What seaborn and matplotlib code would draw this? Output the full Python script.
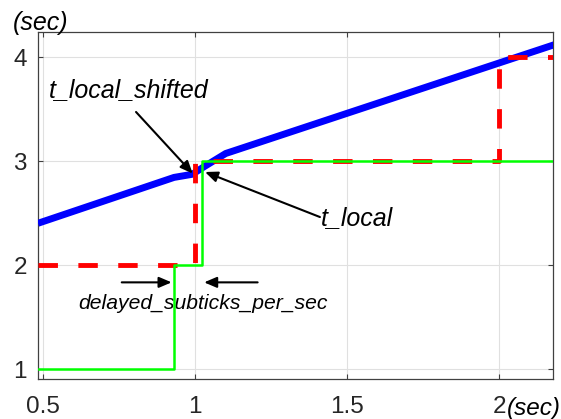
import matplotlib
matplotlib.use("Agg")
import matplotlib.pyplot as plt
import pandas as pd
import seaborn as sns

# Local clock (sec) against real time (sec)
local_t = [0.4825, 0.93, 0.99, 1.03, 1.10, 2.18]
local_val = [2.404, 2.845, 2.875, 2.95, 3.075, 4.12]

# Shifted local clock, whole-second steps
shifted_t = [0.4825, 1.0, 2.0, 2.18]
shifted_val = [2, 3, 4, 4]

# Delayed subtick counter
subtick_t = [0.4825, 0.93, 1.023, 2.18]
subtick_val = [1, 2, 3, 3]

x_ticks = [0.5, 1, 1.5, 2]
x_ticklabels = ["0.5", "1", "1.5", "2"]
y_ticks = [1, 2, 3, 4]
y_ticklabels = ["1", "2", "3", "4"]

sns.set_theme(style="whitegrid")
plt.rcParams["font.family"] = ["Liberation Sans", "DejaVu Sans"]

fig = plt.figure(figsize=(5.61, 4.19), dpi=100)
ax = fig.add_axes([38 / 561, 1 - 379.3 / 419, (552.7 - 38) / 561, (379.3 - 32) / 419])
ax.set_facecolor("white")

local_df = pd.DataFrame({"t": local_t, "v": local_val})
shifted_df = pd.DataFrame({"t": shifted_t, "v": shifted_val})
subtick_df = pd.DataFrame({"t": subtick_t, "v": subtick_val})

sns.lineplot(data=local_df, x="t", y="v", ax=ax, color="#0000ff", lw=5.0,
             estimator=None, sort=False, solid_capstyle="butt",
             solid_joinstyle="round", zorder=3)
sns.lineplot(data=shifted_df, x="t", y="v", ax=ax, color="#ff0000", lw=3.5,
             estimator=None, sort=False, drawstyle="steps-post",
             linestyle=(0, (4.0, 4.2)), zorder=4)
sns.lineplot(data=subtick_df, x="t", y="v", ax=ax, color="#00ff00", lw=1.8,
             estimator=None, sort=False, drawstyle="steps-post", zorder=5)

ax.set_xlim(0.4825, 2.1757)
ax.set_ylim(0.904, 4.243)
ax.set_xticks(x_ticks)
ax.set_xticklabels(x_ticklabels)
ax.set_yticks(y_ticks)
ax.set_yticklabels(y_ticklabels)
ax.set_xlabel("")
ax.set_ylabel("")

ax.grid(True, color="#e0e0e0", lw=0.8)
for side in ["left", "right", "top", "bottom"]:
    ax.spines[side].set_visible(True)
    ax.spines[side].set_color("#404040")
    ax.spines[side].set_linewidth(0.9)
ax.tick_params(axis="both", which="both", direction="in", length=3.6, width=0.8,
               color="#404040", labelcolor="#262626", labelsize=17.5,
               top=True, right=True, bottom=True, left=True)
ax.tick_params(axis="x", pad=12)
ax.tick_params(axis="y", pad=8)

arrow = dict(arrowstyle="-|>,head_length=0.75,head_width=0.32", color="black",
             lw=1.5, mutation_scale=10, shrinkA=0, shrinkB=0)

ax.text(0.518, 3.618, "t_local_shifted", fontsize=18, style="italic",
        color="black", ha="left", va="baseline")
ax.annotate("", xy=(0.9915, 2.882), xytext=(0.805, 3.474), arrowprops=arrow)

ax.text(1.4125, 2.385, "t_local", fontsize=18, style="italic",
        color="black", ha="left", va="baseline")
ax.annotate("", xy=(1.032, 2.897), xytext=(1.410, 2.464), arrowprops=arrow)

ax.text(0.614, 1.577, "delayed_subticks_per_sec", fontsize=15.2, style="italic",
        color="black", ha="left", va="baseline")
ax.annotate("", xy=(0.922, 1.836), xytext=(0.758, 1.836), arrowprops=arrow)
ax.annotate("", xy=(1.029, 1.836), xytext=(1.205, 1.836), arrowprops=arrow)

fig.text(13 / 561, 1 - 30 / 419, "(sec)", fontsize=18, style="italic",
         color="black", ha="left", va="baseline")
fig.text(506.5 / 561, 1 - 415 / 419, "(sec)", fontsize=17.5, style="italic",
         color="black", ha="left", va="baseline")

fig.savefig("out.png", dpi=100, facecolor="white")
